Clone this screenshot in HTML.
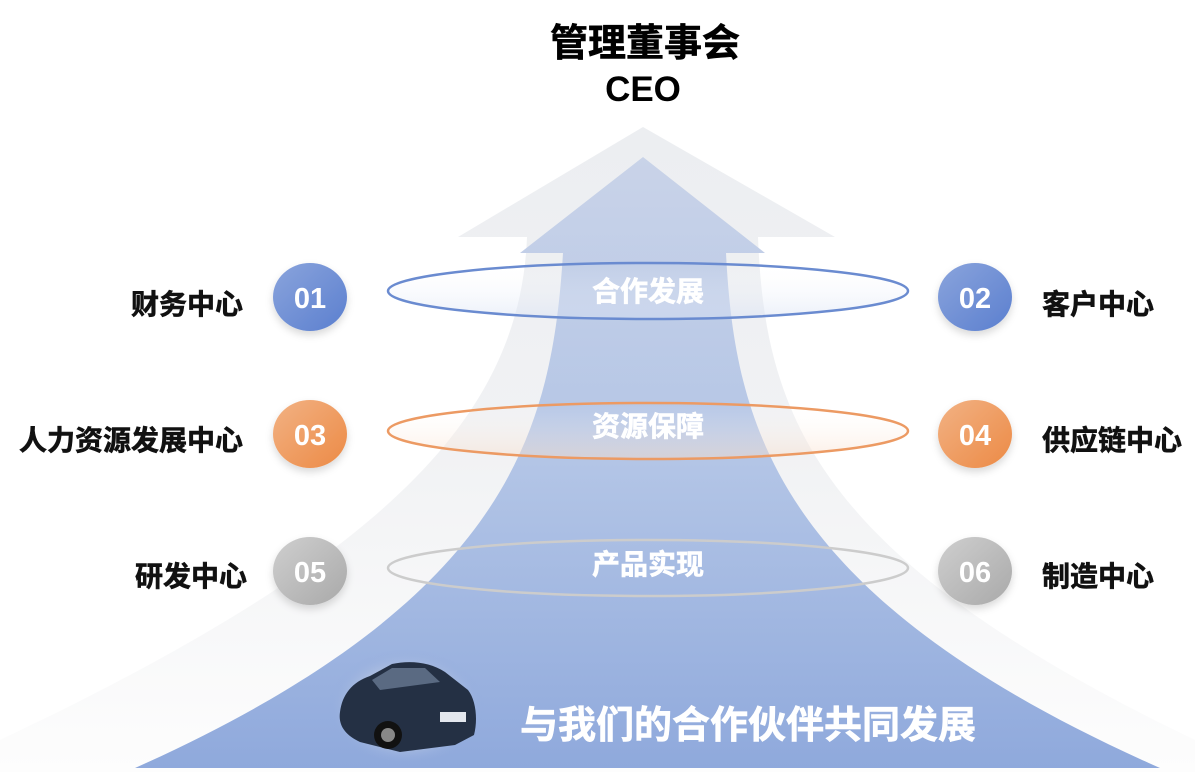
<!DOCTYPE html>
<html><head><meta charset="utf-8"><style>
html,body{margin:0;padding:0;background:#fff;}
body{width:1195px;height:772px;overflow:hidden;position:relative;font-family:"Liberation Sans","Noto Sans CJK SC",sans-serif;}
svg{position:absolute;left:0;top:0;}
</style></head><body>
<svg width="1195" height="772" viewBox="0 0 1195 772">
<defs>
<linearGradient id="gb" x1="0" y1="0" x2="0" y2="1">
<stop offset="0" stop-color="#c9d3e8"/><stop offset="0.5" stop-color="#b3c5e6"/><stop offset="1" stop-color="#8fa9dc"/></linearGradient>
<linearGradient id="gg" x1="0" y1="0" x2="0" y2="1">
<stop offset="0" stop-color="#eceef1"/><stop offset="0.5" stop-color="#f1f2f4"/><stop offset="1" stop-color="#fdfdfd"/></linearGradient>
<linearGradient id="e1" x1="0" y1="0" x2="0" y2="1"><stop offset="0" stop-color="#fff" stop-opacity="0"/><stop offset="1" stop-color="#d6e0f3" stop-opacity="0.5"/></linearGradient>
<linearGradient id="e2" x1="0" y1="0" x2="0" y2="1"><stop offset="0" stop-color="#fff" stop-opacity="0"/><stop offset="1" stop-color="#f8dcc8" stop-opacity="0.5"/></linearGradient>
<linearGradient id="c1" x1="0" y1="0" x2="1" y2="1"><stop offset="0" stop-color="#8aa4dc"/><stop offset="1" stop-color="#5b7fcf"/></linearGradient>
<linearGradient id="c2" x1="0" y1="0" x2="1" y2="1"><stop offset="0" stop-color="#f2b284"/><stop offset="1" stop-color="#ec8a45"/></linearGradient>
<linearGradient id="c3" x1="0" y1="0" x2="1" y2="1"><stop offset="0" stop-color="#cfcfcf"/><stop offset="1" stop-color="#a9a9a9"/></linearGradient>
<radialGradient id="car" cx="0.5" cy="0.5" r="0.5"><stop offset="0.55" stop-color="#c4cfe4"/><stop offset="1" stop-color="#8fa9dc" stop-opacity="0"/></radialGradient>
<filter id="sh"><feDropShadow dx="0" dy="4" stdDeviation="4" flood-color="#000" flood-opacity="0.15"/></filter>
</defs>
<path d="M643,127 L835,237 L758,237 C765,420 820,560 1195,740 L1195,772 L0,772 L0,740 C380,560 520,420 527,237 L458,237 Z" fill="url(#gg)"/>
<path d="M643,157 L765,253 L726,253 C735,430 780,600 1160,768 L135,768 C510,600 552,430 563,253 L520,253 Z" fill="url(#gb)"/>
<ellipse cx="648" cy="291" rx="260" ry="28" fill="url(#e1)" stroke="#6a8bd0" stroke-width="2.5"/>
<ellipse cx="648" cy="431" rx="260" ry="28" fill="url(#e2)" stroke="#ec9a63" stroke-width="2.5"/>
<ellipse cx="648" cy="568" rx="260" ry="28" fill="none" stroke="#cccccc" stroke-width="2.5"/>
<g font-weight="bold" fill="#fff" font-size="28" text-anchor="middle" stroke="#fff" stroke-width="0.6">
<text x="648" y="301">合作发展</text>
<text x="648" y="436">资源保障</text>
<text x="648" y="574">产品实现</text>
</g>
<g filter="url(#sh)">
<ellipse cx="310" cy="297" rx="37" ry="34" fill="url(#c1)"/>
<ellipse cx="975" cy="297" rx="37" ry="34" fill="url(#c1)"/>
<ellipse cx="310" cy="434" rx="37" ry="34" fill="url(#c2)"/>
<ellipse cx="975" cy="434" rx="37" ry="34" fill="url(#c2)"/>
<ellipse cx="310" cy="571" rx="37" ry="34" fill="url(#c3)"/>
<ellipse cx="975" cy="571" rx="37" ry="34" fill="url(#c3)"/>
</g>
<g font-weight="bold" fill="#fff" font-size="29" text-anchor="middle">
<text x="310" y="308">01</text><text x="975" y="308">02</text>
<text x="310" y="445">03</text><text x="975" y="445">04</text>
<text x="310" y="582">05</text><text x="975" y="582">06</text>
</g>
<g font-weight="bold" fill="#111" font-size="28" stroke="#111" stroke-width="0.6">
<text x="243" y="314" text-anchor="end">财务中心</text>
<text x="243" y="450" text-anchor="end">人力资源发展中心</text>
<text x="247" y="586" text-anchor="end">研发中心</text>
<text x="1042" y="314">客户中心</text>
<text x="1042" y="450">供应链中心</text>
<text x="1042" y="586">制造中心</text>
</g>
<text x="645" y="56" font-weight="bold" font-size="38" text-anchor="middle" fill="#000" stroke="#000" stroke-width="0.6">管理董事会</text>
<text x="643" y="101" font-weight="bold" font-size="35" text-anchor="middle" fill="#000">CEO</text>
<!-- car -->
<ellipse cx="406" cy="707" rx="78" ry="58" fill="url(#car)"/>
<path d="M340,712 C342,695 352,682 370,676 L392,664 C410,660 430,662 445,672 L468,690 C476,700 478,720 474,735 L455,745 L400,752 L360,742 C345,735 338,725 340,712 Z" fill="#243044"/>
<path d="M372,680 L392,668 L425,668 L440,682 L380,690 Z" fill="#5a6a82"/>
<rect x="440" y="712" width="26" height="10" fill="#e3e7ee"/>
<circle cx="388" cy="735" r="14" fill="#111"/><circle cx="388" cy="735" r="7" fill="#888"/>
<text x="748" y="738" font-weight="bold" font-size="38" text-anchor="middle" fill="#fff" stroke="#fff" stroke-width="0.6">与我们的合作伙伴共同发展</text>
</svg>
</body></html>
